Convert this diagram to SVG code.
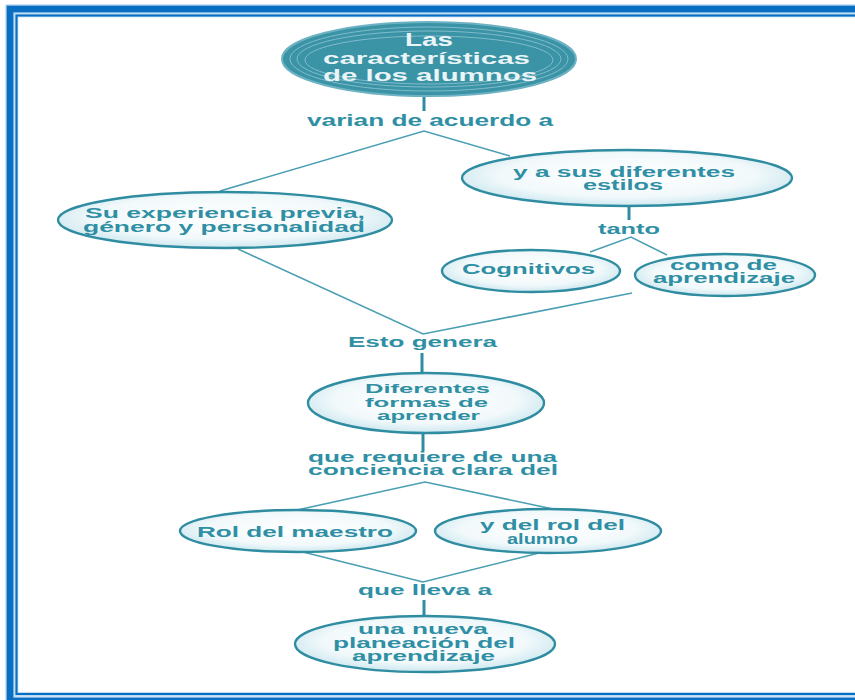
<svg xmlns="http://www.w3.org/2000/svg" width="855" height="700" viewBox="0 0 855 700">
<style>
.t{font-family:"Liberation Sans",Arial,sans-serif;font-weight:bold;fill:#2f8fa4}
.tw{font-family:"Liberation Sans",Arial,sans-serif;font-weight:bold;fill:#eaf5f7}
.n{fill:url(#ng);stroke:#2f8ca1;stroke-width:2.4}
.c{stroke:#4a9fb3;stroke-width:1.6;fill:none}
.v{stroke:#2f8ca1;stroke-width:3;fill:none}
.ring{fill:none;stroke:#7fbccb;stroke-width:1}
</style>
<defs>
<radialGradient id="ng" cx="50%" cy="45%" r="55%">
<stop offset="0" stop-color="#ffffff"/>
<stop offset="0.7" stop-color="#f2f9fb"/>
<stop offset="1" stop-color="#cde8ef"/>
</radialGradient>
</defs>
<rect x="0" y="0" width="855" height="700" fill="#ffffff"/>
<g id="border">
<rect x="10" y="9" width="860" height="692" fill="none" stroke="#9cc9ec" stroke-width="9"/>
<rect x="10" y="9" width="860" height="692" fill="none" stroke="#0a6fc2" stroke-width="6.5"/>
<rect x="16.5" y="15.5" width="860" height="678.5" fill="none" stroke="#a8d0ee" stroke-width="3.5"/>
<rect x="16.5" y="15.5" width="860" height="678.5" fill="none" stroke="#0a6fc2" stroke-width="2"/>
</g>
<g id="connectors">
<line class="v" x1="424" y1="95" x2="424" y2="111"/>
<polyline class="c" points="220,191 424,131 510,156"/>
<line class="v" x1="629" y1="206" x2="629" y2="220"/>
<polyline class="c" points="590,252 631,237 667,255"/>
<polyline class="c" points="238,249 423,334 632,293"/>
<line class="v" x1="422" y1="353" x2="422" y2="373"/>
<line class="v" x1="423" y1="433" x2="423" y2="451"/>
<polyline class="c" points="297,510 425,482 553,509"/>
<polyline class="c" points="303,552 423,582 543,552"/>
<line class="v" x1="424" y1="600" x2="424" y2="617"/>
</g>
<g id="n-caracteristicas">
<ellipse cx="429" cy="59" rx="147" ry="37" fill="#3b93a6" stroke="#6db2c2" stroke-width="2"/>
<ellipse class="ring" cx="429" cy="59" rx="139" ry="32"/>
<ellipse class="ring" cx="429" cy="59" rx="132" ry="28"/>
<ellipse class="ring" cx="429" cy="60" rx="124" ry="24"/>
<ellipse cx="429" cy="59" rx="117" ry="22" fill="#3b93a6"/>
<text class="tw" font-size="18" x="405" y="46" textLength="48" lengthAdjust="spacingAndGlyphs">Las</text>
<text class="tw" font-size="17" x="323" y="64" textLength="207" lengthAdjust="spacingAndGlyphs">características</text>
<text class="tw" font-size="17" x="323" y="81" textLength="214" lengthAdjust="spacingAndGlyphs">de los alumnos</text>
</g>
<g id="l-varian">
<text class="t" font-size="16" x="307" y="126" textLength="246" lengthAdjust="spacingAndGlyphs">varian de acuerdo a</text>
</g>
<g id="n-experiencia">
<ellipse class="n" cx="225" cy="220" rx="167" ry="28"/>
<text class="t" font-size="14" x="85" y="218" textLength="280" lengthAdjust="spacingAndGlyphs">Su experiencia previa,</text>
<text class="t" font-size="14" x="83" y="232" textLength="282" lengthAdjust="spacingAndGlyphs">género y personalidad</text>
</g>
<g id="n-estilos">
<ellipse class="n" cx="627" cy="178" rx="165" ry="28"/>
<text class="t" font-size="14" x="513" y="177" textLength="222" lengthAdjust="spacingAndGlyphs">y a sus diferentes</text>
<text class="t" font-size="14" x="583" y="190" textLength="80" lengthAdjust="spacingAndGlyphs">estilos</text>
</g>
<g id="l-tanto">
<text class="t" font-size="14" x="598" y="234" textLength="62" lengthAdjust="spacingAndGlyphs">tanto</text>
</g>
<g id="n-cognitivos">
<ellipse class="n" cx="531" cy="271" rx="89" ry="21"/>
<text class="t" font-size="14" x="462" y="274" textLength="133" lengthAdjust="spacingAndGlyphs">Cognitivos</text>
</g>
<g id="n-aprendizaje">
<ellipse class="n" cx="725" cy="275" rx="90" ry="21"/>
<text class="t" font-size="14" x="670" y="270" textLength="107" lengthAdjust="spacingAndGlyphs">como de</text>
<text class="t" font-size="14" x="653" y="283" textLength="142" lengthAdjust="spacingAndGlyphs">aprendizaje</text>
</g>
<g id="l-esto">
<text class="t" font-size="14" x="348" y="347" textLength="149" lengthAdjust="spacingAndGlyphs">Esto genera</text>
</g>
<g id="n-formas">
<ellipse class="n" cx="426" cy="403" rx="118" ry="30"/>
<text class="t" font-size="13" x="365" y="393" textLength="125" lengthAdjust="spacingAndGlyphs">Diferentes</text>
<text class="t" font-size="13" x="365" y="407" textLength="123" lengthAdjust="spacingAndGlyphs">formas de</text>
<text class="t" font-size="13" x="377" y="420" textLength="103" lengthAdjust="spacingAndGlyphs">aprender</text>
</g>
<g id="l-requiere">
<text class="t" font-size="14" x="308" y="462" textLength="249" lengthAdjust="spacingAndGlyphs">que requiere de una</text>
<text class="t" font-size="14" x="308" y="475" textLength="250" lengthAdjust="spacingAndGlyphs">conciencia clara del</text>
</g>
<g id="n-maestro">
<ellipse class="n" cx="298" cy="531" rx="118" ry="21"/>
<text class="t" font-size="14" x="197" y="537" textLength="196" lengthAdjust="spacingAndGlyphs">Rol del maestro</text>
</g>
<g id="n-alumno">
<ellipse class="n" cx="548" cy="531" rx="113" ry="22"/>
<text class="t" font-size="14" x="480" y="530" textLength="145" lengthAdjust="spacingAndGlyphs">y del rol del</text>
<text class="t" font-size="14" x="507" y="544" textLength="71" lengthAdjust="spacingAndGlyphs">alumno</text>
</g>
<g id="l-lleva">
<text class="t" font-size="15" x="358" y="595" textLength="134" lengthAdjust="spacingAndGlyphs">que lleva a</text>
</g>
<g id="n-planeacion">
<ellipse class="n" cx="425" cy="644" rx="130" ry="28"/>
<text class="t" font-size="14" x="358" y="634" textLength="130" lengthAdjust="spacingAndGlyphs">una nueva</text>
<text class="t" font-size="14" x="333" y="648" textLength="182" lengthAdjust="spacingAndGlyphs">planeación del</text>
<text class="t" font-size="14" x="352" y="661" textLength="143" lengthAdjust="spacingAndGlyphs">aprendizaje</text>
</g>
</svg>
